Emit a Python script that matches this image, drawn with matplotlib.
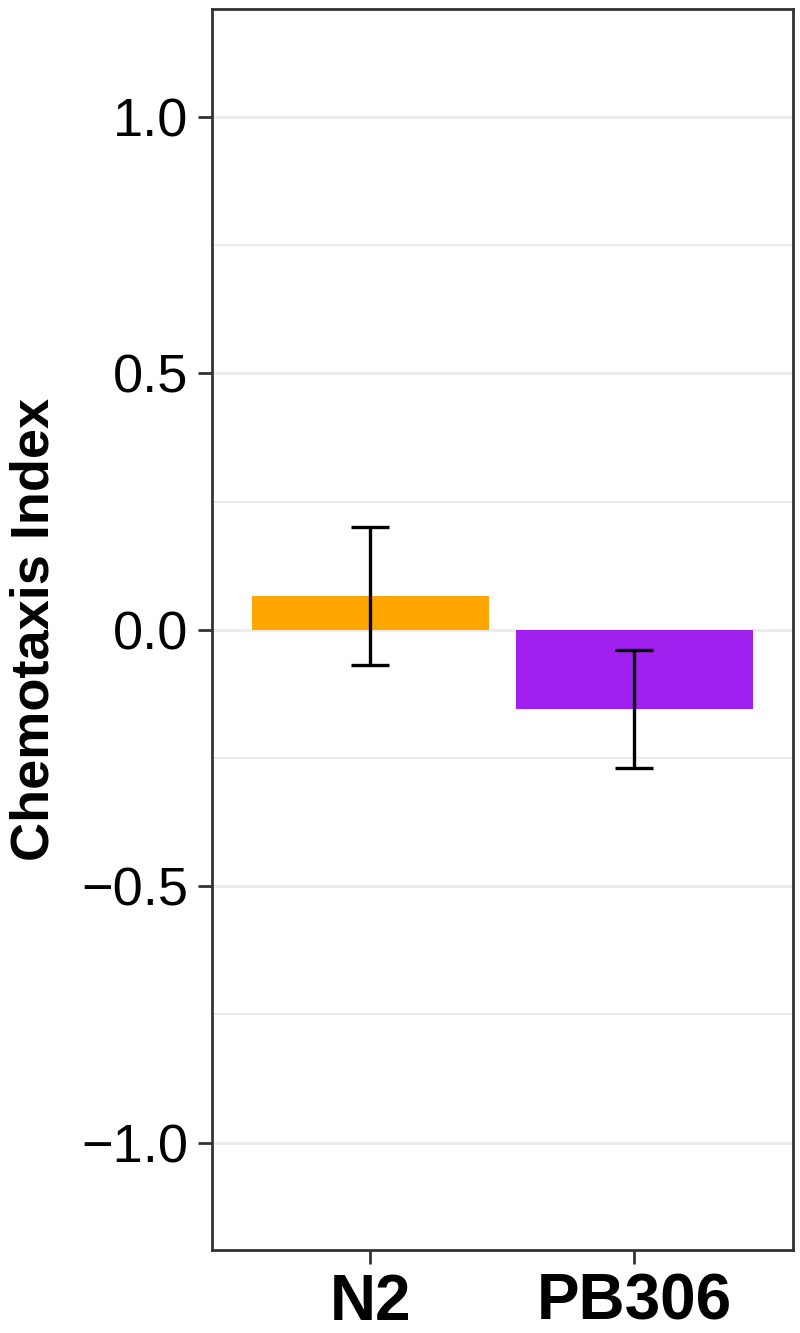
import matplotlib
matplotlib.use("Agg")
import matplotlib.pyplot as plt

plt.rcParams['font.family'] = ['Liberation Sans', 'DejaVu Sans']

# chemotaxis index per strain (mean +/- error)
strains = ['N2', 'PB306']
ci_mean = [0.066, -0.154]
ci_err = [0.135, 0.115]
bar_colors = ['#FFA500', '#A020F0']

major_ticks = [-1.0, -0.5, 0.0, 0.5, 1.0]
major_labels = ['\u22121.0', '\u22120.5', '0.0', '0.5', '1.0']
minor_ticks = [-0.75, -0.25, 0.25, 0.75]

fig = plt.figure(figsize=(8, 13.33), dpi=100)
ax = fig.add_axes([0.265, 0.062, 0.726, 0.931])

x = list(range(len(strains)))
ax.bar(x, ci_mean, width=0.9, color=bar_colors, zorder=2)
ax.errorbar(x, ci_mean, yerr=ci_err, fmt='none', ecolor='black',
            elinewidth=2.4, capsize=14, capthick=2.4, zorder=3)

ax.set_xlim(-0.6, 1.6)
ax.set_ylim(-1.21, 1.21)

ax.set_yticks(major_ticks)
ax.set_yticklabels(major_labels)
ax.set_yticks(minor_ticks, minor=True)
ax.set_xticks(x)
ax.set_xticklabels(strains, fontweight='bold', fontsize=46)

ax.grid(axis='y', which='major', color='#EBEBEB', linewidth=2.0, zorder=0)
ax.grid(axis='y', which='minor', color='#EBEBEB', linewidth=1.3, zorder=0)
ax.set_axisbelow(True)

ax.tick_params(axis='y', which='major', labelsize=39, length=10, width=2,
               color='#333333', pad=7)
ax.tick_params(axis='y', which='minor', length=0)
ax.tick_params(axis='x', length=10, width=2, color='#333333', pad=6)

for side in ax.spines.values():
    side.set_color('#333333')
    side.set_linewidth(2.0)

ax.set_ylabel('Chemotaxis Index', fontsize=39, fontweight='bold', labelpad=16)

fig.savefig('out.png', dpi=100)
plt.close(fig)
